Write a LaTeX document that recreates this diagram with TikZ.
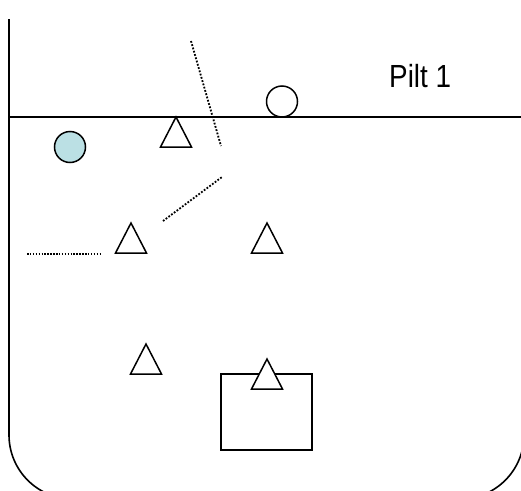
\documentclass[tikz,border=0pt]{standalone}
\usepackage{fontspec}
\setmainfont{Liberation Sans}
\definecolor{vesi}{RGB}{187,224,228}
\begin{document}
\begin{tikzpicture}[x=1pt,y=-1pt,line join=miter,
  tri/.style={draw,fill=white,line width=1.5pt},
  punktiir/.style={line width=1.8pt,dash pattern=on 1.8pt off 1.6pt}]

\useasboundingbox (0,0) rectangle (521,490);
\clip (0,0) rectangle (521,490);

% Anum
\draw[line width=1.6pt,rounded corners=64pt] (9,19) -- (9,499) -- (524,499) -- (524,19);

% Veepind
\draw[line width=1.6pt] (9,117) -- (521,117);

% Pallid
\draw[line width=1.5pt,fill=vesi] (70,147) circle (15.5);
\draw[line width=1.5pt,fill=white] (282,101.5) circle (15.5);

% Kast
\draw[line width=1.3pt] (221,374) rectangle (312,450);

% Kolmnurgad
\foreach \x/\y in {176/117, 131/223, 267/223, 146/344, 267/359}
  \draw[tri] (\x,\y) -- (\x+15.5,\y+30) -- (\x-15.5,\y+30) -- cycle;

% Punktiirjooned
\draw[punktiir] (191,41) -- (221,146);
\draw[punktiir] (163,221) -- (222,177);
\draw[punktiir,line width=1.5pt,dash pattern=on 1.5pt off 1.4pt] (27,254) -- (102,254);

% Pealkiri
\node[anchor=base west,inner sep=0pt,font=\fontsize{32}{36}\selectfont,xscale=0.87] (pilt) at (389,87) {Pilt 1};

\end{tikzpicture}
\end{document}
